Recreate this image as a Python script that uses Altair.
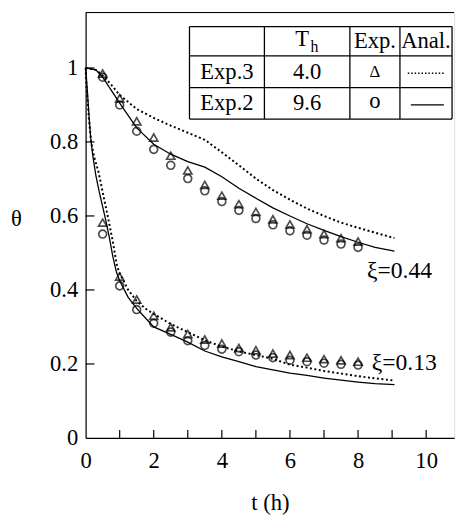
import altair as alt
import pandas as pd

# ---------------- data ----------------
t_exp = [0.5, 1, 1.5, 2, 2.5, 3, 3.5, 4, 4.5, 5, 5.5, 6, 6.5, 7, 7.5, 8]
# xi = 0.44
exp2_hi = [0.975, 0.900, 0.829, 0.780, 0.737, 0.701, 0.668, 0.639, 0.615, 0.593, 0.576, 0.560, 0.548, 0.535, 0.524, 0.515]
exp3_hi = [0.985, 0.918, 0.856, 0.812, 0.763, 0.723, 0.684, 0.655, 0.632, 0.611, 0.591, 0.577, 0.564, 0.551, 0.540, 0.531]
# xi = 0.13
exp2_lo = [0.551, 0.411, 0.347, 0.310, 0.286, 0.263, 0.250, 0.240, 0.233, 0.224, 0.217, 0.210, 0.206, 0.202, 0.199, 0.197]
exp3_lo = [0.582, 0.436, 0.374, 0.330, 0.299, 0.281, 0.266, 0.255, 0.243, 0.237, 0.228, 0.224, 0.217, 0.213, 0.210, 0.206]

# analytical curves
t_an_hi = [0, 0.3, 0.5, 0.75, 1.0, 1.5, 2.0, 2.5, 3.0, 3.5, 4.0, 4.5, 5.0, 5.5, 6.0, 6.5, 7.0, 7.5, 8.0, 8.5, 9.07]
an2_hi = [1.0, 0.995, 0.975, 0.94, 0.905, 0.838, 0.794, 0.767, 0.747, 0.732, 0.706, 0.675, 0.648, 0.622, 0.600, 0.579, 0.561, 0.544, 0.529, 0.515, 0.505]
an3_hi = [1.0, 0.995, 0.980, 0.955, 0.927, 0.889, 0.865, 0.844, 0.825, 0.806, 0.772, 0.737, 0.701, 0.670, 0.644, 0.620, 0.600, 0.582, 0.568, 0.555, 0.540]

t_an2_lo = [0, 0.05, 0.1, 0.15, 0.2, 0.3, 0.4, 0.5, 0.6, 0.7, 0.8, 0.9, 1.0, 1.25, 1.5, 1.75, 2.0, 2.5, 3.0, 3.5, 4.0, 4.5, 5.0, 5.5, 6.0, 6.5, 7.0, 7.5, 8.0, 8.5, 9.07]
an2_lo = [1.0, 0.94, 0.87, 0.81, 0.77, 0.71, 0.665, 0.625, 0.585, 0.54, 0.49, 0.45, 0.425, 0.38, 0.35, 0.325, 0.30, 0.28, 0.259, 0.235, 0.219, 0.206, 0.193, 0.184, 0.175, 0.169, 0.162, 0.156, 0.151, 0.147, 0.144]
t_an3_lo = [0, 0.02, 0.05, 0.1, 0.16, 0.25, 0.375, 0.5, 0.66, 0.8, 0.92, 1.0, 1.25, 1.5, 1.75, 2.0, 2.5, 3.0, 3.5, 4.0, 4.5, 5.0, 5.5, 6.0, 6.5, 7.0, 7.5, 8.0, 8.5, 9.07]
an3_lo = [1.0, 0.96, 0.92, 0.86, 0.80, 0.76, 0.72, 0.665, 0.595, 0.53, 0.465, 0.445, 0.40, 0.37, 0.35, 0.335, 0.308, 0.286, 0.264, 0.247, 0.234, 0.224, 0.214, 0.198, 0.190, 0.181, 0.174, 0.167, 0.161, 0.155, 0.155]

x_ticks = [1, 2, 3, 4, 5, 6, 7, 8, 9, 10]
y_ticks = [0.2, 0.4, 0.6, 0.8, 1.0]
x_labels = [0, 2, 4, 6, 8, 10]
y_labels = [0, 0.2, 0.4, 0.6, 0.8, 1.0]

# legend table content
tbl_rows = ["Exp.3", "Exp.2"]
tbl_Th = ["4.0", "9.6"]
tbl_sym = ["Δ", "o"]
tbl_head = ["Exp.", "Anal."]

# table geometry (data coordinates)
tbl_x = [3.05, 5.25, 7.76, 9.23, 10.76]
tbl_y = [1.112, 1.033, 0.947, 0.862]

XMAX, YMAX = 10.82, 1.15
W, H = 375, 433
FONT = "Liberation Serif"
FS = 23

xs = alt.Scale(domain=[0, XMAX], nice=False)
ys = alt.Scale(domain=[0, YMAX], nice=False)

def lines_df(pairs):
    rows = []
    for name, ts, vs in pairs:
        for t, v in zip(ts, vs):
            rows.append({"curve": name, "t": t, "v": v})
    return pd.DataFrame(rows)

solid_df = lines_df([("hi", t_an_hi, an2_hi), ("lo", t_an2_lo, an2_lo)])
dot_df = lines_df([("hi", t_an_hi, an3_hi), ("lo", t_an3_lo, an3_lo)])

circ_df = pd.DataFrame({"t": t_exp * 2, "v": exp2_hi + exp2_lo})
tri_df = pd.DataFrame({"t": t_exp * 2, "v": exp3_hi + exp3_lo})

X = alt.X("t:Q", scale=xs, title="t (h)",
          axis=alt.Axis(values=x_labels, ticks=False, tickSize=0, grid=False,
                        domainColor="black", domainWidth=1.2,
                        labelFont=FONT, labelFontSize=FS, labelColor="black",
                        labelPadding=12, labelFlush=False,
                        titleFont=FONT, titleFontSize=FS, titleFontWeight="normal",
                        titleColor="black", titleY=66, titleBaseline="middle"))
Y = alt.Y("v:Q", scale=ys, title="θ",
          axis=alt.Axis(values=y_labels, format="~g", ticks=False, tickSize=0, grid=False,
                        domainColor="black", domainWidth=1.2,
                        labelFont=FONT, labelFontSize=FS, labelColor="black",
                        labelPadding=8, labelFlush=False,
                        titleFont=FONT, titleFontSize=23, titleFontWeight="normal",
                        titleColor="black", titleAngle=0, titleX=-71, titleY=210,
                        titleAlign="center", titleBaseline="middle"))

solid = alt.Chart(solid_df).mark_line(color="black", strokeWidth=1.3).encode(
    x=X, y=Y, detail="curve:N", order="t:Q")
dotted = alt.Chart(dot_df).mark_line(color="black", strokeWidth=2, strokeDash=[2, 2.6]).encode(
    x="t:Q", y="v:Q", detail="curve:N", order="t:Q")
circles = alt.Chart(circ_df).mark_point(shape="circle", size=64, filled=False,
                                        color="black", strokeWidth=1.7).encode(x="t:Q", y="v:Q")
tris = alt.Chart(tri_df).mark_point(shape="triangle-up", size=70, filled=False,
                                    color="black", strokeWidth=1.7).encode(x="t:Q", y="v:Q")

# tick marks drawn inward
xt = alt.Chart(pd.DataFrame({"t": x_ticks})).mark_rule(color="black", strokeWidth=1.2).encode(
    x="t:Q", y=alt.value(H), y2=alt.value(H - 8))
yt = alt.Chart(pd.DataFrame({"v": y_ticks})).mark_rule(color="black", strokeWidth=1.2).encode(
    y="v:Q", x=alt.value(0), x2=alt.value(9))
top = alt.Chart(pd.DataFrame({"a": [0]})).mark_rule(color="black", strokeWidth=1.2).encode(
    y=alt.value(0), x=alt.value(0), x2=alt.value(W))

# table lines
hl = pd.DataFrame({"x": [tbl_x[0]] * 4, "x2": [tbl_x[-1]] * 4, "y": tbl_y})
vl = pd.DataFrame({"x": tbl_x, "y": [tbl_y[0]] * 5, "y2": [tbl_y[-1]] * 5})
hlines = alt.Chart(hl).mark_rule(color="black", strokeWidth=1.3).encode(
    x=alt.X("x:Q"), x2="x2:Q", y="y:Q")
vlines = alt.Chart(vl).mark_rule(color="black", strokeWidth=1.3).encode(
    x="x:Q", y="y:Q", y2="y2:Q")

cx = [(tbl_x[i] + tbl_x[i + 1]) / 2 for i in range(4)]
cy = [(tbl_y[i] + tbl_y[i + 1]) / 2 for i in range(3)]

txt_rows = pd.DataFrame({
    "x": [cx[0], cx[0], cx[1], cx[1], cx[2], cx[3]],
    "y": [cy[1], cy[2], cy[1], cy[2], cy[0], cy[0]],
    "s": [tbl_rows[0], tbl_rows[1], tbl_Th[0], tbl_Th[1], tbl_head[0], tbl_head[1]],
})
txt = alt.Chart(txt_rows).mark_text(font=FONT, fontSize=FS, color="black", baseline="middle").encode(
    x="x:Q", y="y:Q", text="s:N")
tri_sym = alt.Chart(pd.DataFrame({"x": [cx[2]], "y": [cy[1]], "s": [tbl_sym[0]]})).mark_text(
    font=FONT, fontSize=17, color="black", baseline="middle").encode(x="x:Q", y="y:Q", text="s:N")
o_sym = alt.Chart(pd.DataFrame({"x": [cx[2]], "y": [cy[2]], "s": [tbl_sym[1]]})).mark_text(
    font=FONT, fontSize=FS, color="black", baseline="middle", dy=-2).encode(x="x:Q", y="y:Q", text="s:N")
T_main = alt.Chart(pd.DataFrame({"x": [cx[1] - 0.15], "y": [cy[0]], "s": ["T"]})).mark_text(
    font=FONT, fontSize=FS, color="black", baseline="middle", dy=-2).encode(x="x:Q", y="y:Q", text="s:N")
T_sub = alt.Chart(pd.DataFrame({"x": [cx[1] + 0.1], "y": [cy[0]], "s": ["h"]})).mark_text(
    font=FONT, fontSize=16, color="black", baseline="middle", align="left", dy=6).encode(
    x="x:Q", y="y:Q", text="s:N")

leg_dot = alt.Chart(pd.DataFrame({"t": [9.46, 10.56], "v": [0.986, 0.986]})).mark_line(
    color="black", strokeWidth=1.6, strokeDash=[1.5, 2]).encode(x="t:Q", y="v:Q")
leg_sol = alt.Chart(pd.DataFrame({"t": [9.55, 10.52], "v": [0.90, 0.90]})).mark_line(
    color="black", strokeWidth=1.3).encode(x="t:Q", y="v:Q")

ann = alt.Chart(pd.DataFrame({"x": [8.26, 8.40], "y": [0.452, 0.2035],
                              "s": ["ξ=0.44", "ξ=0.13"]})).mark_text(
    font=FONT, fontSize=24, color="black", align="left", baseline="middle").encode(
    x="x:Q", y="y:Q", text="s:N")

chart = alt.layer(solid, dotted, circles, tris, xt, yt, top, hlines, vlines,
                  txt, tri_sym, o_sym, T_main, T_sub, leg_dot, leg_sol, ann).properties(
    width=W, height=H,
    autosize=alt.AutoSizeParams(type="none"),
    padding={"left": 79, "top": 0, "right": 5, "bottom": 82},
).configure_view(stroke=None).configure(background="white")

chart.save("out.html", embed_options={"renderer": "svg", "actions": False})
